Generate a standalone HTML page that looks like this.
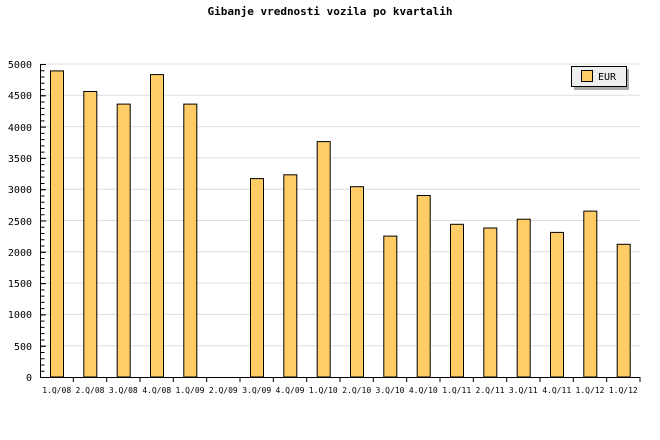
<!DOCTYPE html>
<html><head><style>body{margin:0;background:#fff}svg{display:block}</style></head><body>
<svg width="660" height="440" xmlns="http://www.w3.org/2000/svg" font-family="DejaVu Sans Mono, Liberation Mono, monospace">
<rect width="660" height="440" fill="#fff"/>
<text x="330" y="15" text-anchor="middle" font-size="11" font-weight="bold">Gibanje vrednosti vozila po kvartalih</text>
<g stroke="#ddd">
<line x1="41" x2="640" y1="345.7" y2="345.7"/><line x1="41" x2="640" y1="314.4" y2="314.4"/>
<line x1="41" x2="640" y1="283.1" y2="283.1"/><line x1="41" x2="640" y1="251.8" y2="251.8"/>
<line x1="41" x2="640" y1="220.5" y2="220.5"/><line x1="41" x2="640" y1="189.2" y2="189.2"/>
<line x1="41" x2="640" y1="157.9" y2="157.9"/><line x1="41" x2="640" y1="126.6" y2="126.6"/>
<line x1="41" x2="640" y1="95.3" y2="95.3"/><line x1="41" x2="640" y1="64" y2="64"/>
</g>
<g fill="#ffcc66" stroke="#000">
<rect x="50.5" y="70.9" width="13" height="306.1"/>
<rect x="83.8" y="91.5" width="13" height="285.5"/>
<rect x="117.2" y="104.1" width="13" height="272.9"/>
<rect x="150.5" y="74.6" width="13" height="302.4"/>
<rect x="183.8" y="104.1" width="13" height="272.9"/>
<rect x="250.5" y="178.6" width="13" height="198.4"/>
<rect x="283.8" y="174.8" width="13" height="202.2"/>
<rect x="317.2" y="141.6" width="13" height="235.4"/>
<rect x="350.5" y="186.7" width="13" height="190.3"/>
<rect x="383.8" y="236.1" width="13" height="140.9"/>
<rect x="417.2" y="195.5" width="13" height="181.5"/>
<rect x="450.5" y="224.3" width="13" height="152.7"/>
<rect x="483.8" y="228" width="13" height="149"/>
<rect x="517.2" y="219.2" width="13" height="157.8"/>
<rect x="550.5" y="232.4" width="13" height="144.6"/>
<rect x="583.8" y="211.1" width="13" height="165.9"/>
<rect x="617.2" y="244.3" width="13" height="132.7"/>
</g>
<g stroke="#000">
<line x1="40.5" x2="40.5" y1="64" y2="378"/>
<line x1="40" x2="640" y1="377.5" y2="377.5"/>
<path d="M40 377.5 H44" stroke-width="0" />
<line x1="42.5" x2="42.5" y1="378" y2="63" stroke-width="4" stroke-dasharray="1 5.26"/>
<line x1="40" x2="46" y1="377.5" y2="377.5"/><line x1="40" x2="46" y1="346.2" y2="346.2"/>
<line x1="40" x2="46" y1="314.9" y2="314.9"/><line x1="40" x2="46" y1="283.6" y2="283.6"/>
<line x1="40" x2="46" y1="252.3" y2="252.3"/><line x1="40" x2="46" y1="221" y2="221"/>
<line x1="40" x2="46" y1="189.7" y2="189.7"/><line x1="40" x2="46" y1="158.4" y2="158.4"/>
<line x1="40" x2="46" y1="127.1" y2="127.1"/><line x1="40" x2="46" y1="95.8" y2="95.8"/>
<line x1="40" x2="46" y1="64.5" y2="64.5"/>
<line x1="73.3" x2="73.3" y1="377" y2="382"/><line x1="106.7" x2="106.7" y1="377" y2="382"/>
<line x1="140" x2="140" y1="377" y2="382"/><line x1="173.3" x2="173.3" y1="377" y2="382"/>
<line x1="206.7" x2="206.7" y1="377" y2="382"/><line x1="240" x2="240" y1="377" y2="382"/>
<line x1="273.3" x2="273.3" y1="377" y2="382"/><line x1="306.7" x2="306.7" y1="377" y2="382"/>
<line x1="340" x2="340" y1="377" y2="382"/><line x1="373.3" x2="373.3" y1="377" y2="382"/>
<line x1="406.7" x2="406.7" y1="377" y2="382"/><line x1="440" x2="440" y1="377" y2="382"/>
<line x1="473.3" x2="473.3" y1="377" y2="382"/><line x1="506.7" x2="506.7" y1="377" y2="382"/>
<line x1="540" x2="540" y1="377" y2="382"/><line x1="573.3" x2="573.3" y1="377" y2="382"/>
<line x1="606.7" x2="606.7" y1="377" y2="382"/><line x1="640" x2="640" y1="377" y2="382"/>
</g>
<g font-size="10" text-anchor="end">
<text x="32" y="381">0</text><text x="32" y="350">500</text><text x="32" y="318">1000</text>
<text x="32" y="287">1500</text><text x="32" y="256">2000</text><text x="32" y="225">2500</text>
<text x="32" y="193">3000</text><text x="32" y="162">3500</text><text x="32" y="131">4000</text>
<text x="32" y="99">4500</text><text x="32" y="68">5000</text>
</g>
<g font-size="8" text-anchor="middle">
<text x="56.7" y="393">1.Q/08</text><text x="90" y="393">2.Q/08</text><text x="123.3" y="393">3.Q/08</text>
<text x="156.7" y="393">4.Q/08</text><text x="190" y="393">1.Q/09</text><text x="223.3" y="393">2.Q/09</text>
<text x="256.7" y="393">3.Q/09</text><text x="290" y="393">4.Q/09</text><text x="323.3" y="393">1.Q/10</text>
<text x="356.7" y="393">2.Q/10</text><text x="390" y="393">3.Q/10</text><text x="423.3" y="393">4.Q/10</text>
<text x="456.7" y="393">1.Q/11</text><text x="490" y="393">2.Q/11</text><text x="523.3" y="393">3.Q/11</text>
<text x="556.7" y="393">4.Q/11</text><text x="590" y="393">1.Q/12</text><text x="623.3" y="393">1.Q/12</text>
</g>
<rect x="574" y="69" width="55" height="21" fill="#aaa"/>
<rect x="571.5" y="66.5" width="55" height="20" fill="#eee" stroke="#000"/>
<rect x="581.5" y="70.5" width="11" height="11" fill="#ffcc66" stroke="#000"/>
<text x="598" y="80" font-size="10">EUR</text>
</svg>
</body></html>
